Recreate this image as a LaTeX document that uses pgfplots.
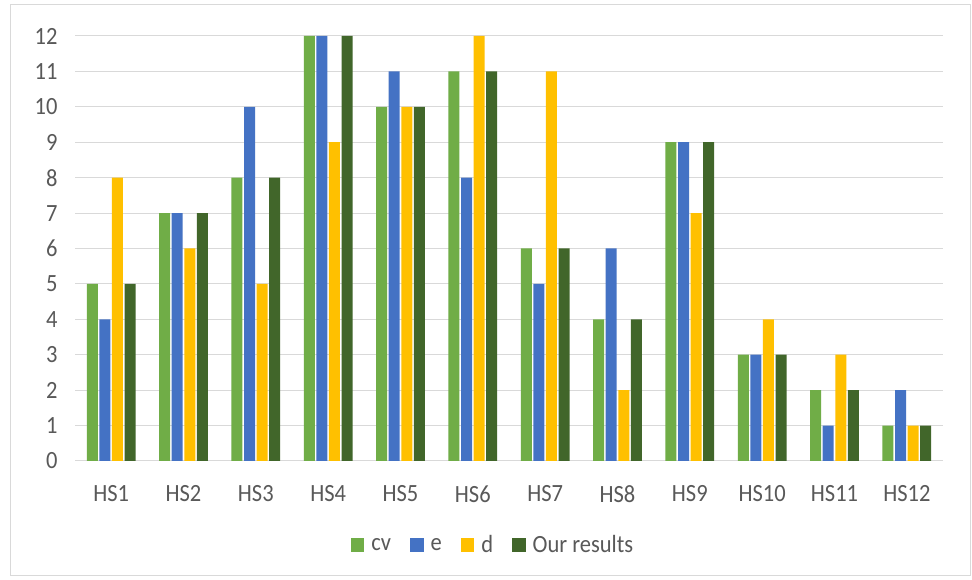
\documentclass[border=0pt]{standalone}
\usepackage{pgfplots}
\pgfplotsset{compat=1.18}
\usepackage{fontspec}
\setmainfont{Carlito}
\definecolor{cvc}{HTML}{70AD47}
\definecolor{ec}{HTML}{4472C4}
\definecolor{dc}{HTML}{FFC000}
\definecolor{oc}{HTML}{41662A}
\definecolor{txt}{HTML}{595959}
\definecolor{gridc}{HTML}{D9D9D9}
\begin{document}
\begin{tikzpicture}[x=1pt,y=1pt]
\useasboundingbox (0,0) rectangle (972,580);
\fill[white] (0,0) rectangle (972,580);
\draw[gridc,line width=1pt] (10,4) rectangle (970,575);
\begin{axis}[
  at={(75pt,119pt)}, anchor=south west,
  scale only axis, width=868pt, height=425pt,
  ybar=1.6pt, bar width=11pt,
  xmin=-0.5, xmax=11.5, ymin=0, ymax=12,
  xtick={0,...,11},
  xticklabels={HS1,HS2,HS3,HS4,HS5,HS6,HS7,HS8,HS9,HS10,HS11,HS12},
  ytick={0,...,12},
  ymajorgrids, grid style={gridc,line width=1pt},
  axis line style={draw=none},
  axis x line*=bottom,
  x axis line style={gridc,line width=1pt},
  tick style={draw=none},
  major tick length=0pt,
  ticklabel style={font=\fontsize{22.5}{26}\selectfont, text=txt, yscale=1.1},
  /pgf/number format/assume math mode=true,
  yticklabel style={xshift=-14pt},
  xticklabel style={yshift=-19pt},
  legend style={at={(0.4816,-0.198)}, anchor=center, draw=none, fill=none,
    legend columns=4, font=\fontsize{22.5}{26}\selectfont, text=txt,
    nodes={yscale=1.1},
    /tikz/every even column/.append style={column sep=17pt},
    /tikz/every odd column/.append style={column sep=5pt}},
  legend image code/.code={\fill[#1] (0pt,-6.5pt) rectangle (13.5pt,7pt);},
]
\addplot[fill=cvc,draw=none] coordinates {(0,5)(1,7)(2,8)(3,12)(4,10)(5,11)(6,6)(7,4)(8,9)(9,3)(10,2)(11,1)};
\addplot[fill=ec,draw=none] coordinates {(0,4)(1,7)(2,10)(3,12)(4,11)(5,8)(6,5)(7,6)(8,9)(9,3)(10,1)(11,2)};
\addplot[fill=dc,draw=none] coordinates {(0,8)(1,6)(2,5)(3,9)(4,10)(5,12)(6,11)(7,2)(8,7)(9,4)(10,3)(11,1)};
\addplot[fill=oc,draw=none] coordinates {(0,5)(1,7)(2,8)(3,12)(4,10)(5,11)(6,6)(7,4)(8,9)(9,3)(10,2)(11,1)};
\legend{cv,e,d,Our results}
\end{axis}
\end{tikzpicture}
\end{document}
